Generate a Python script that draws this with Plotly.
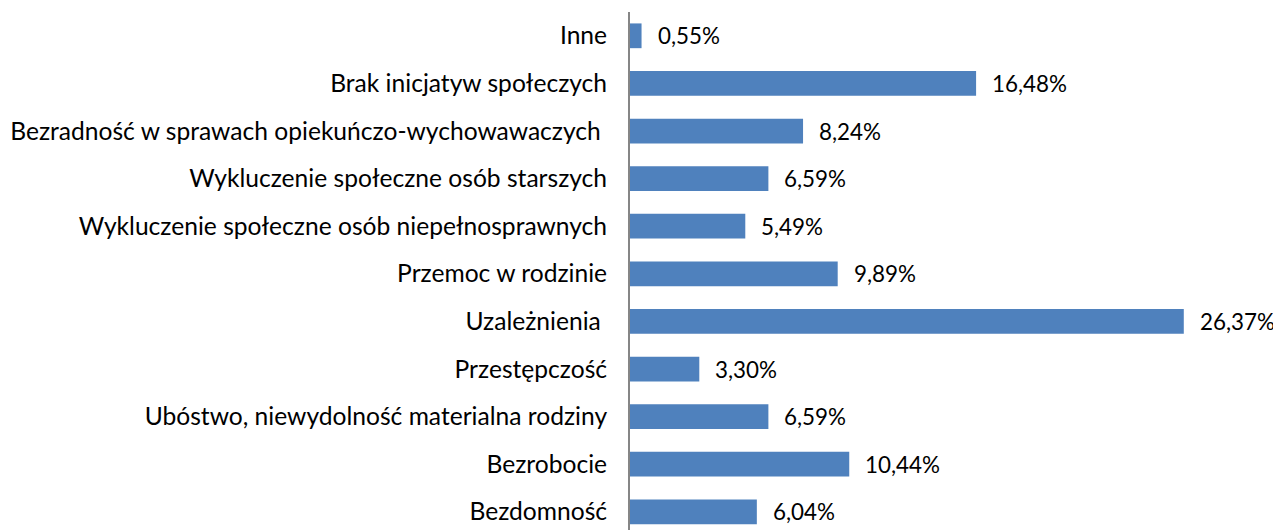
import plotly.graph_objects as go

categories = [
    "Bezdomność",
    "Bezrobocie",
    "Ubóstwo, niewydolność materialna rodziny",
    "Przestępczość",
    "Uzależnienia\u00a0",
    "Przemoc w rodzinie",
    "Wykluczenie społeczne osób niepełnosprawnych",
    "Wykluczenie społeczne osób starszych",
    "Bezradność w sprawach opiekuńczo-wychowawaczych\u00a0",
    "Brak inicjatyw społeczych",
    "Inne",
]
values = [6.04, 10.44, 6.59, 3.30, 26.37, 9.89, 5.49, 6.59, 8.24, 16.48, 0.55]
labels = [f"{v:.2f}%".replace(".", ",") for v in values]

FONT = "Lato, 'Open Sans', sans-serif"
FS = 24.6
FS_VAL = 22.4

fig = go.Figure()
fig.add_trace(go.Bar(
    y=list(range(len(categories))),
    x=values,
    orientation="h",
    width=0.52,
    marker=dict(color="#4F81BD", line=dict(width=0)),
    hoverinfo="skip",
))

for i, (v, t) in enumerate(zip(values, labels)):
    fig.add_annotation(x=v, y=i, text=t, showarrow=False, xanchor="left",
                       xshift=14, yanchor="middle",
                       font=dict(family=FONT, size=FS_VAL, color="#000000"))

fig.update_layout(
    width=1281, height=530,
    margin=dict(l=622, r=0, t=4, b=0),
    plot_bgcolor="white", paper_bgcolor="white",
    showlegend=False,
    font=dict(family=FONT, size=FS, color="#000000"),
    xaxis=dict(range=[0, 31.38], showgrid=False, zeroline=False,
               showticklabels=False, showline=False, ticks=""),
    yaxis=dict(range=[-0.55, 10.5], tickmode="array",
               tickvals=list(range(len(categories))), ticktext=categories,
               showgrid=False, zeroline=False, showline=True,
               linecolor="#868686", linewidth=2, ticks="",
               ticklabelstandoff=16,
               tickfont=dict(family=FONT, size=FS, color="#000000")),
)

fig.write_html("out.html")
